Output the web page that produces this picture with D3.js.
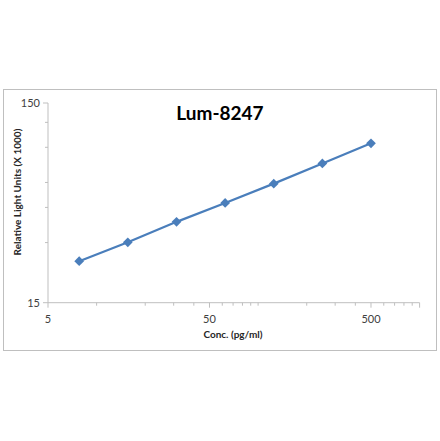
<!DOCTYPE html>
<html><head><meta charset="utf-8">
<script src="https://cdn.jsdelivr.net/npm/d3@7"></script>
<style>body{margin:0;background:#fff}</style>
</head><body>
<div id="chart"></div>
<script>
const conc = [7.8, 15.6, 31.25, 62.5, 125, 250, 500];
const rlu = [24.2, 30.1, 38.1, 47.4, 59.2, 74.7, 94.2];
const xTicks = [5, 50, 500];
const yTicks = [15, 150];
const xMinor = [10, 20, 30, 40, 60, 70, 80, 90, 100, 200, 300, 400, 600, 700, 800, 900];
const yMinor = [30, 45, 60, 90, 120];

const svg = d3.select("#chart").append("svg").attr("width", 440).attr("height", 441);
svg.append("rect").attr("x", 3.5).attr("y", 89.5).attr("width", 433).attr("height", 261)
  .attr("fill", "#fff").attr("stroke", "#bfbfbf");

const x = d3.scaleLog().domain([5, 1000]).range([48, 419.6]);
const y = d3.scaleLog().domain([15, 150]).range([302.7, 103]);
const font = "Lato, 'Open Sans', sans-serif";
const axisCol = "#bfbfbf";

// axes lines
svg.append("line").attr("x1", x(5)).attr("x2", x(1000)).attr("y1", y(15)).attr("y2", y(15)).attr("stroke", axisCol);
svg.append("line").attr("x1", x(5)).attr("x2", x(5)).attr("y1", y(15)).attr("y2", y(150)).attr("stroke", axisCol);
svg.selectAll(".xm").data(xMinor.concat(xTicks, [1000])).join("line")
  .attr("x1", d => x(d)).attr("x2", d => x(d)).attr("y1", y(15)).attr("y2", d => y(15) + (xTicks.includes(d) || d === 1000 ? 5 : 3))
  .attr("stroke", axisCol);
svg.selectAll(".ym").data(yMinor.concat(yTicks)).join("line")
  .attr("x1", x(5)).attr("x2", d => x(5) - (yTicks.includes(d) ? 5 : 3)).attr("y1", d => y(d)).attr("y2", d => y(d))
  .attr("stroke", axisCol);

svg.selectAll(".xl").data(xTicks).join("text")
  .attr("x", d => x(d)).attr("y", y(15) + 20).attr("text-anchor", "middle")
  .attr("font-family", font).attr("font-size", 11).attr("fill", "#404040").text(d => d);
svg.selectAll(".yl").data(yTicks).join("text")
  .attr("x", x(5) - 8).attr("y", d => y(d) + 4).attr("text-anchor", "end")
  .attr("font-family", font).attr("font-size", 11).attr("fill", "#404040").text(d => d);

const pts = conc.map((c, i) => [c, rlu[i]]);
svg.append("path").datum(pts)
  .attr("d", d3.line().x(d => x(d[0])).y(d => y(d[1])))
  .attr("fill", "none").attr("stroke", "#4a7ebb").attr("stroke-width", 2.2);
svg.selectAll(".pt").data(pts).join("path")
  .attr("d", d3.symbol(d3.symbolDiamond2, 60))
  .attr("transform", d => `translate(${x(d[0])},${y(d[1])})`)
  .attr("fill", "#4a7ebb");

svg.append("text").attr("x", 220).attr("y", 120).attr("text-anchor", "middle")
  .attr("font-family", font).attr("font-weight", "bold").attr("font-size", 19).attr("fill", "#000").text("Lum-8247");
svg.append("text").attr("x", 233).attr("y", 338).attr("text-anchor", "middle")
  .attr("font-family", font).attr("font-weight", "bold").attr("font-size", 10).attr("fill", "#262626").text("Conc. (pg/ml)");
svg.append("text").attr("transform", "translate(21,192) rotate(-90)").attr("text-anchor", "middle")
  .attr("font-family", font).attr("font-weight", "bold").attr("font-size", 10).attr("fill", "#262626").text("Relative Light Units (X 1000)");
</script>
</body></html>
